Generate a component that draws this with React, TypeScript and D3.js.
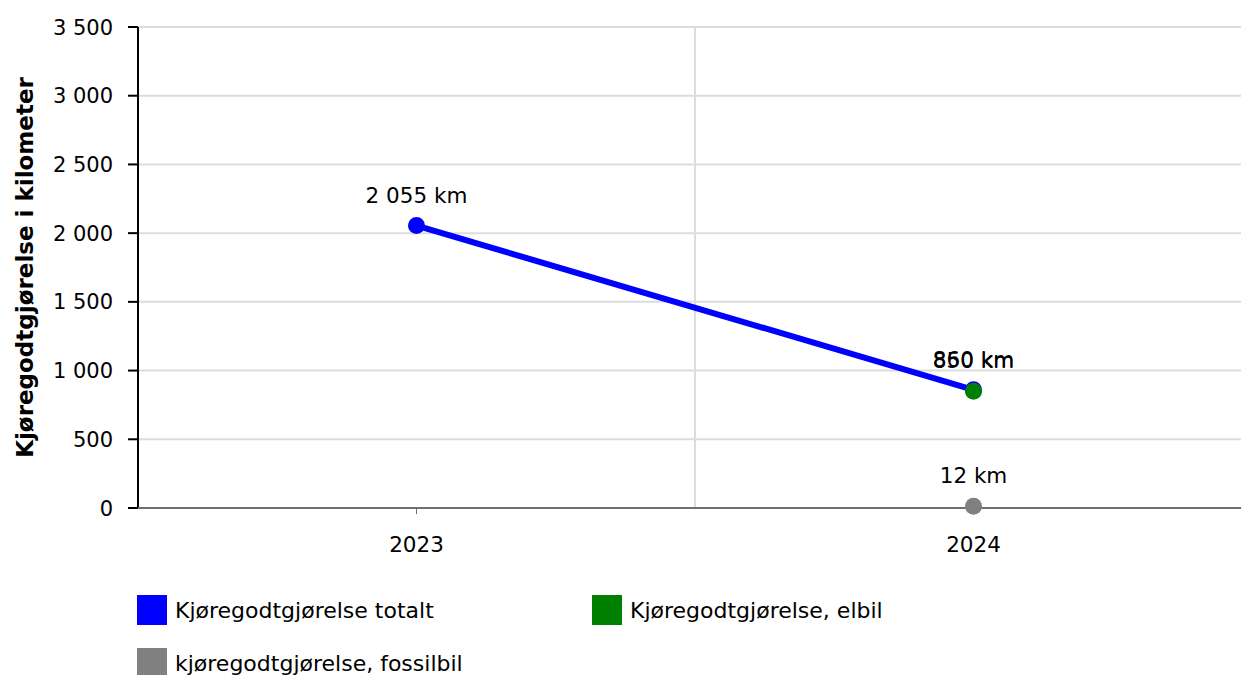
import React from "react";
import * as d3 from "d3";

const categories = ["2023", "2024"];
const totalt: (number | null)[] = [2055, 860];
const elbil: (number | null)[] = [null, 850];
const fossil: (number | null)[] = [null, 12];
const yTicks = [0, 500, 1000, 1500, 2000, 2500, 3000, 3500];
const seriesNames = ["Kjøregodtgjørelse totalt", "Kjøregodtgjørelse, elbil", "kjøregodtgjørelse, fossilbil"];
const seriesColors = ["#0000ff", "#008000", "#808080"];

const W = 1241, H = 675;
const FONT = "'DejaVu Sans', Verdana, sans-serif";
const fmt = (v: number) => d3.format(",")(v).replace(/,/g, " ");

export default function App() {
  const left = 138, right = 1252, top = 27, bottom = 508;
  const x = d3.scaleBand<string>().domain(categories).range([left, right]);
  const y = d3.scaleLinear().domain([0, 3500]).range([bottom, top]);
  const cx = (c: string) => (x(c) as number) + x.bandwidth() / 2;
  const series = [totalt, elbil, fossil];
  const line = d3.line<[string, number | null]>()
    .defined(d => d[1] != null)
    .x(d => cx(d[0]))
    .y(d => y(d[1] as number));

  return (
    <svg width={W} height={H} style={{ position: "absolute", left: 0, top: 0 }} fontFamily={FONT}>
      <rect width={W} height={H} fill="#fff" />
      {yTicks.map(t => (
        <g key={t}>
          {t > 0 && <line x1={left} x2={W} y1={y(t)} y2={y(t)} stroke="#dcdcdc" strokeWidth={2} />}
          <line x1={left - 10} x2={left} y1={y(t)} y2={y(t)} stroke="#000" strokeWidth={2} />
          <text x={113} y={y(t)} dy="0.36em" textAnchor="end" fontSize={21} fill="#000">{fmt(t)}</text>
        </g>
      ))}
      {categories.slice(1).map(c => (
        <line key={c} x1={x(c) as number} x2={x(c) as number} y1={top} y2={bottom} stroke="#dcdcdc" strokeWidth={2} />
      ))}
      <line x1={left} x2={left} y1={top} y2={bottom} stroke="#000" strokeWidth={2} />
      <line x1={left} x2={W} y1={bottom} y2={bottom} stroke="#6e6e6e" strokeWidth={2} />
      {categories.map(c => (
        <g key={c}>
          <line x1={cx(c)} x2={cx(c)} y1={bottom} y2={bottom + 6} stroke="#6e6e6e" strokeWidth={1} />
          <text x={cx(c)} y={552} textAnchor="middle" fontSize={21.5} fill="#000">{c}</text>
        </g>
      ))}
      <text transform={`translate(33, ${(top + bottom) / 2}) rotate(-90)`} textAnchor="middle" fontSize={23} fontWeight="bold" fill="#000">
        Kjøregodtgjørelse i kilometer
      </text>
      {series.map((s, i) => (
        <path key={i} d={line(categories.map((c, j) => [c, s[j]] as [string, number | null])) || ""} fill="none" stroke={seriesColors[i]} strokeWidth={6} />
      ))}
      {series.map((s, i) => categories.map((c, j) => s[j] == null ? null : (
        <g key={`${i}-${j}`}>
          <circle cx={cx(c)} cy={y(s[j] as number)} r={8.5} fill={seriesColors[i]} />
          <text x={cx(c)} y={y(s[j] as number) - 23} textAnchor="middle" fontSize={21.5} fill="#000">{fmt(s[j] as number)} km</text>
        </g>
      )))}
      {seriesNames.map((n, i) => {
        const lx = i === 1 ? 592 : 137;
        const ly = i === 2 ? 648 : 595;
        return (
          <g key={n}>
            <rect x={lx} y={ly} width={30} height={30} fill={seriesColors[i]} />
            <text x={lx + 38} y={ly + 23} fontSize={22} fill="#000">{n}</text>
          </g>
        );
      })}
    </svg>
  );
}
